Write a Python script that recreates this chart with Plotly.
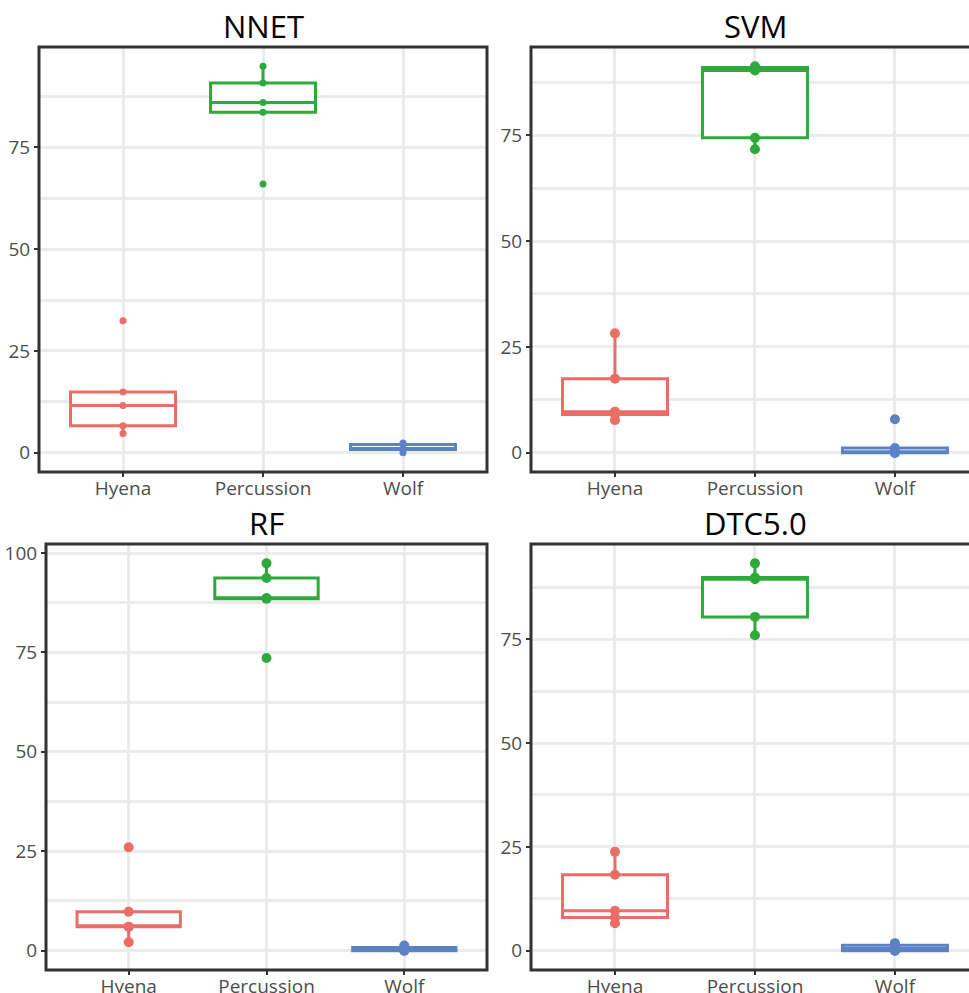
import plotly.graph_objects as go

# ---- data ----
categories = ["Hyena", "Percussion", "Wolf"]
titles = ["NNET", "SVM", "RF", "DTC5.0"]

nnet_hyena = [4.7, 6.6, 11.6, 14.9, 32.4]
nnet_percussion = [66.0, 83.6, 86.0, 90.8, 94.9]
nnet_wolf = [0.0, 0.8, 0.8, 2.0, 2.4]

svm_hyena = [7.7, 9.0, 9.7, 17.5, 28.2]
svm_percussion = [71.7, 74.4, 90.3, 91.0, 91.3]
svm_wolf = [0.0, 0.0, 0.0, 1.1, 7.9]

rf_hyena = [2.1, 6.0, 6.0, 9.8, 26.0]
rf_percussion = [73.6, 88.5, 88.7, 93.7, 97.4]
rf_wolf = [0.0, 0.0, 0.4, 0.8, 1.3]

dtc_hyena = [6.6, 8.0, 9.6, 18.3, 23.8]
dtc_percussion = [76.0, 80.4, 89.5, 89.9, 93.3]
dtc_wolf = [0.0, 0.0, 0.5, 1.3, 1.8]

y_tickvals = [0, 25, 50, 75, 100]
y_ticktext = ["0", "25", "50", "75", "100"]

models = [
    [nnet_hyena, nnet_percussion, nnet_wolf],
    [svm_hyena, svm_percussion, svm_wolf],
    [rf_hyena, rf_percussion, rf_wolf],
    [dtc_hyena, dtc_percussion, dtc_wolf],
]

# ---- styles ----
W, H = 969, 993
colors = ["#EA6E66", "#2EAA3B", "#5C82C6"]
marker_sizes = [7, 10, 10, 10]
FONT = "Open Sans"
GRID = "#EBEBEB"
BORDER = "#333333"
TICKFONT = dict(family=FONT, size=19, color="#4D4D4D")

# panel pixel boxes: (left, right, top, bottom, x-range)
panels = [
    (39, 487, 47, 472, [-0.6, 2.6]),
    (531, 969, 47, 472, [-0.6, 2.529]),
    (46, 487, 544, 970, [-0.6, 2.6]),
    (531, 969, 544, 970, [-0.6, 2.529]),
]

fig = go.Figure()
layout = dict(
    width=W, height=H,
    margin=dict(l=0, r=0, t=0, b=0, pad=0, autoexpand=False),
    paper_bgcolor="white", plot_bgcolor="white",
    showlegend=False,
    font=dict(family=FONT, color="#4D4D4D", size=19),
)
shapes = []
annotations = []

for i, (groups, title) in enumerate(zip(models, titles)):
    n = i + 1
    xa = "x" if n == 1 else f"x{n}"
    ya = "y" if n == 1 else f"y{n}"
    left, right, top, bottom, xr = panels[i]

    for cat, vals, col in zip(categories, groups, colors):
        fig.add_trace(go.Box(
            x=[cat] * len(vals), y=vals,
            xaxis=xa, yaxis=ya,
            boxpoints="all", jitter=0, pointpos=0,
            quartilemethod="inclusive",
            line=dict(color=col, width=3),
            fillcolor="white",
            marker=dict(color=col, size=marker_sizes[i], opacity=1),
            whiskerwidth=0, width=0.75,
            hoverinfo="y",
        ))

    allv = [v for g in groups for v in g]
    lo, hi = min(allv), max(allv)
    pad = 0.05 * (hi - lo)

    layout["xaxis" if n == 1 else f"xaxis{n}"] = dict(
        domain=[left / W, right / W],
        anchor=ya,
        type="category",
        categoryorder="array", categoryarray=categories,
        range=xr,
        showgrid=True, gridcolor=GRID, gridwidth=2.5,
        ticks="outside", ticklen=4, tickwidth=1.5, tickcolor=BORDER,
        ticklabelstandoff=-5,
        tickfont=TICKFONT,
        showline=False, zeroline=False, fixedrange=True,
    )
    layout["yaxis" if n == 1 else f"yaxis{n}"] = dict(
        domain=[1 - bottom / H, 1 - top / H],
        anchor=xa,
        range=[lo - pad, hi + pad],
        tickmode="array", tickvals=y_tickvals, ticktext=y_ticktext,
        showgrid=True, gridcolor=GRID, gridwidth=2.5,
        minor=dict(tickmode="linear", tick0=0, dtick=12.5, showgrid=True,
                   gridcolor=GRID, gridwidth=2.5, ticks=""),
        ticks="outside", ticklen=4, tickwidth=1.5, tickcolor=BORDER,
        tickfont=TICKFONT,
        showline=False, zeroline=False, fixedrange=True,
    )

    x1_ext = 1.0 if right < W else 1.0 + 12 / (right - left)
    shapes.append(dict(
        type="rect", xref=f"{xa} domain", yref=f"{ya} domain",
        x0=0, x1=x1_ext, y0=0, y1=1,
        line=dict(color=BORDER, width=3), fillcolor="rgba(0,0,0,0)",
        layer="above",
    ))
    cx = (left + (right if right < W else 979)) / 2
    annotations.append(dict(
        text=title, xref="paper", yref="paper",
        x=cx / W, y=1 - (top + 2) / H,
        xanchor="center", yanchor="bottom", showarrow=False,
        font=dict(family=FONT, size=31, color="black"),
    ))

layout["shapes"] = shapes
layout["annotations"] = annotations
fig.update_layout(**layout)
fig.write_html(
    "out.html",
    config={"displayModeBar": False},
    post_script="document.body.style.margin='0px';document.body.style.overflow='hidden';",
)
